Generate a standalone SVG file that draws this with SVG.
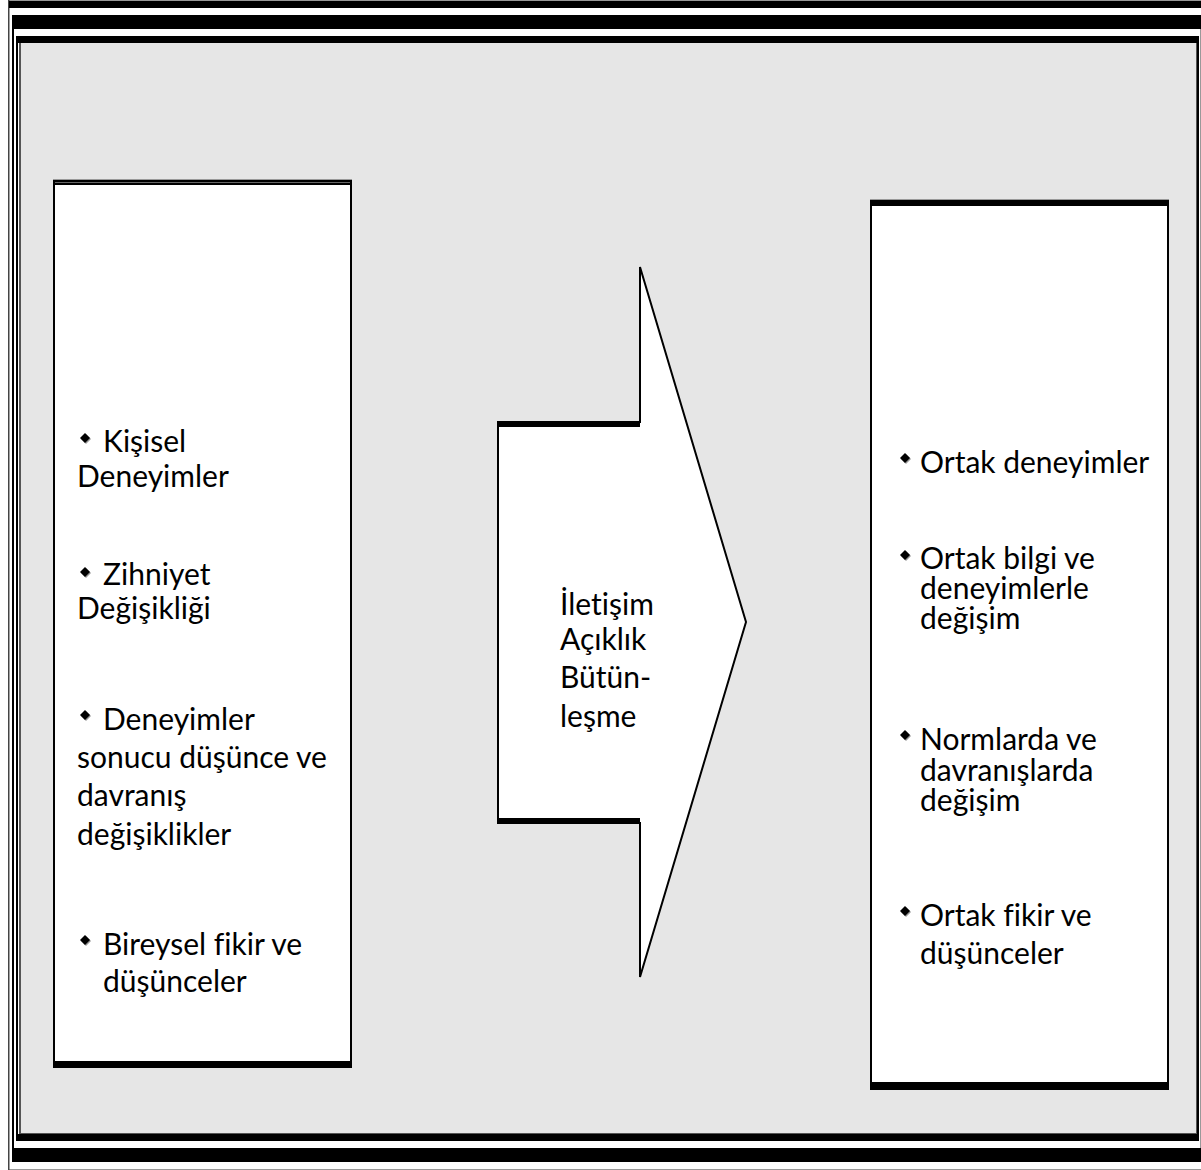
<svg xmlns="http://www.w3.org/2000/svg" width="1201" height="1170" viewBox="0 0 1201 1170">
<style>
.t{font-family:Lato,"Open Sans","Liberation Sans",sans-serif;font-size:30px;fill:#000;font-variant-ligatures:none}
.box{fill:#fff}
</style>
<defs>
<g id="bul"><polygon points="1,-4 6,1 1,6 -4,1" fill="#999"/><polygon points="0,-5 5,0 0,5 -5,0" fill="#000"/></g>
</defs>
<rect width="1201" height="1170" fill="#fff"/>
<g id="frame">
<rect x="8" y="0" width="1193" height="1" fill="#999"/>
<rect x="8" y="1169" width="1193" height="1" fill="#999"/>
<rect x="8" y="0" width="1.5" height="1170" fill="#444"/>
<rect x="9" y="1" width="1192" height="7" fill="#000"/>
<rect x="12" y="15" width="1189" height="14" fill="#000"/>
<rect x="12" y="15" width="2" height="1147" fill="#000"/>
<rect x="12" y="1148" width="1189" height="14" fill="#000"/>
<rect x="16" y="36" width="1183" height="7" fill="#000"/>
<rect x="16" y="36" width="2" height="1105" fill="#000"/>
<rect x="16" y="1134" width="1183" height="7" fill="#000"/>
<rect x="1197" y="36" width="2" height="1105" fill="#000"/>
<rect x="1200" y="29" width="1" height="1119" fill="#999"/>
<rect x="19" y="43" width="1178" height="1091" fill="#555"/>
<rect x="21" y="43" width="1175" height="1090" fill="#e6e6e6"/>
</g>
<g id="left-box">
<rect x="53" y="179" width="299" height="889" fill="#000"/>
<rect x="53" y="179" width="299" height="1" fill="#999"/>
<rect x="55" y="185" width="295" height="876" class="box"/>
<rect x="55" y="182" width="295" height="1" fill="#666"/>
<use href="#bul" x="85" y="438"/>
<text class="t"><tspan x="103" y="452">Kişisel</tspan><tspan x="77" y="487">Deneyimler</tspan></text>
<use href="#bul" x="85" y="572"/>
<text class="t"><tspan x="103" y="585">Zihniyet</tspan><tspan x="77" y="619">Değişikliği</tspan></text>
<use href="#bul" x="85" y="715"/>
<text class="t"><tspan x="103" y="730">Deneyimler</tspan><tspan x="77" y="768">sonucu düşünce ve</tspan><tspan x="77" y="806">davranış</tspan><tspan x="77" y="845">değişiklikler</tspan></text>
<use href="#bul" x="85" y="940"/>
<text class="t"><tspan x="103" y="955">Bireysel fikir ve</tspan><tspan x="103" y="992">düşünceler</tspan></text>
</g>
<g id="arrow">
<polygon points="498,422 640,422 640,267 746,622 640,977 640,823 498,823" fill="#fff" stroke="#000" stroke-width="2"/>
<rect x="499" y="421" width="141" height="6" fill="#000"/>
<rect x="499" y="818" width="141" height="6" fill="#000"/>
<text class="t"><tspan x="560" y="615">İletişim</tspan><tspan x="560" y="650">Açıklık</tspan><tspan x="560" y="688">Bütün-</tspan><tspan x="560" y="727">leşme</tspan></text>
</g>
<g id="right-box">
<rect x="870" y="199" width="299" height="891" fill="#000"/>
<rect x="870" y="199" width="299" height="1" fill="#999"/>
<rect x="872" y="206" width="295" height="876" class="box"/>
<use href="#bul" x="905" y="458"/>
<text class="t"><tspan x="920" y="473">Ortak deneyimler</tspan></text>
<use href="#bul" x="905" y="555"/>
<text class="t"><tspan x="920" y="569">Ortak bilgi ve</tspan><tspan x="920" y="599">deneyimlerle</tspan><tspan x="920" y="629">değişim</tspan></text>
<use href="#bul" x="905" y="735"/>
<text class="t"><tspan x="920" y="750">Normlarda ve</tspan><tspan x="920" y="781">davranışlarda</tspan><tspan x="920" y="811">değişim</tspan></text>
<use href="#bul" x="905" y="911"/>
<text class="t"><tspan x="920" y="926">Ortak fikir ve</tspan><tspan x="920" y="964">düşünceler</tspan></text>
</g>
</svg>
